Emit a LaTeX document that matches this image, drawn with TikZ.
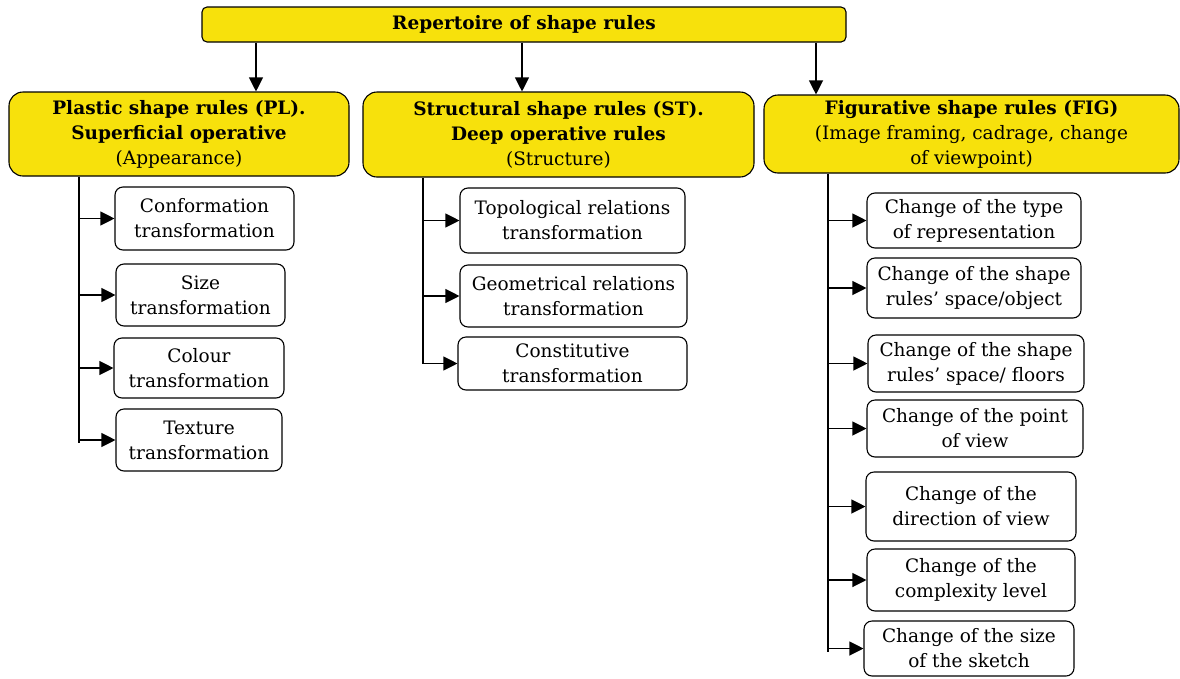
\documentclass[tikz,border=0pt]{standalone}
\usepackage{fontspec}
\setmainfont{DejaVu Serif}
\usetikzlibrary{arrows.meta}
\definecolor{ruleyellow}{RGB}{247,225,12}

\begin{document}
\begin{tikzpicture}[x=1pt,y=-1pt,
    every node/.style={align=center,inner sep=0pt,font=\fontsize{18.5}{25}\selectfont},
    head/.style={draw,fill=ruleyellow,line width=1.1pt,rounded corners=14pt},
    sub/.style={draw,line width=1.1pt,rounded corners=8pt},
    arr/.style={-{Triangle[length=14pt,width=14pt]},line width=1.1pt}]
  \useasboundingbox (0,0) rectangle (1180,678);
  % root
  \node[head,rounded corners=5pt,minimum width=644,minimum height=35] (rep) at (524,24.5) {\textbf{Repertoire of shape rules}};
  % the three families
  \node[head,minimum width=340,minimum height=84] (pl) at (179,134) {\textbf{Plastic shape rules (PL).}\\\textbf{Superficial operative}\\(Appearance)};
  \node[head,minimum width=391,minimum height=85] (st) at (558.5,134.5) {\textbf{Structural shape rules (ST).}\\\textbf{Deep operative rules}\\(Structure)};
  \node[head,minimum width=415,minimum height=78] (fig) at (971.5,134) {\textbf{Figurative shape rules (FIG)}\\(Image framing, cadrage, change\\of viewpoint)};
  % arrows from the root
  \coordinate (plin) at (256,0);
  \coordinate (stin) at (522,0);
  \coordinate (figin) at (816,0);
  \draw[arr] (rep.south -| plin) -- (pl.north -| plin);
  \draw[arr] (rep.south -| stin) -- (st.north -| stin);
  \draw[arr] (rep.south -| figin) -- (fig.north -| figin);
  % plastic rules
  \node[sub,minimum width=179,minimum height=63] (conf) at (204.5,218.5) {Conformation\\transformation};
  \node[sub,minimum width=169,minimum height=62] (size) at (200.5,295) {Size\\transformation};
  \node[sub,minimum width=170,minimum height=60] (colour) at (199,368) {Colour\\transformation};
  \node[sub,minimum width=166,minimum height=62] (texture) at (199,440) {Texture\\transformation};
  % structural rules
  \node[sub,minimum width=225,minimum height=65] (topo) at (572.5,220.5) {Topological relations\\transformation};
  \node[sub,minimum width=227,minimum height=62] (geom) at (573.5,296) {Geometrical relations\\transformation};
  \node[sub,minimum width=229,minimum height=53] (const) at (572.5,363.5) {Constitutive\\transformation};
  % figurative rules
  \node[sub,minimum width=214,minimum height=55] (type) at (974,220.5) {Change of the type\\of representation};
  \node[sub,minimum width=214,minimum height=60] (object) at (974,288) {Change of the shape\\rules’ space/object};
  \node[sub,minimum width=216,minimum height=57] (floors) at (976,363.5) {Change of the shape\\rules’ space/ floors};
  \node[sub,minimum width=216,minimum height=57] (point) at (975,428.5) {Change of the point\\of view};
  \node[sub,minimum width=210,minimum height=69] (direction) at (971,506.5) {Change of the\\direction of view};
  \node[sub,minimum width=208,minimum height=62] (complexity) at (971,580) {Change of the\\complexity level};
  \node[sub,minimum width=210,minimum height=55] (sketch) at (969,648.5) {Change of the size\\of the sketch};
  % vertical lines
  \coordinate (plend) at (79,443);
  \coordinate (stend) at (423,363.5);
  \coordinate (figend) at (828,652);
  \draw[line width=1.1pt] (pl.south -| plend) -- (plend);
  \draw[line width=1.1pt] (st.south -| stend) -- (stend);
  \draw[line width=1.1pt] (fig.south -| figend) -- (figend);
  % branches
  \draw[arr] (conf.west -| plend) -- (conf.west);
  \draw[arr] (size.west -| plend) -- (size.west);
  \draw[arr] (colour.west -| plend) -- (colour.west);
  \draw[arr] (texture.west -| plend) -- (texture.west);
  \draw[arr] (topo.west -| stend) -- (topo.west);
  \draw[arr] (geom.west -| stend) -- (geom.west);
  \draw[arr] (const.west -| stend) -- (const.west);
  \draw[arr] (type.west -| figend) -- (type.west);
  \draw[arr] (object.west -| figend) -- (object.west);
  \draw[arr] (floors.west -| figend) -- (floors.west);
  \draw[arr] (point.west -| figend) -- (point.west);
  \draw[arr] (direction.west -| figend) -- (direction.west);
  \draw[arr] (complexity.west -| figend) -- (complexity.west);
  \draw[arr] (sketch.west -| figend) -- (sketch.west);
\end{tikzpicture}
\end{document}
